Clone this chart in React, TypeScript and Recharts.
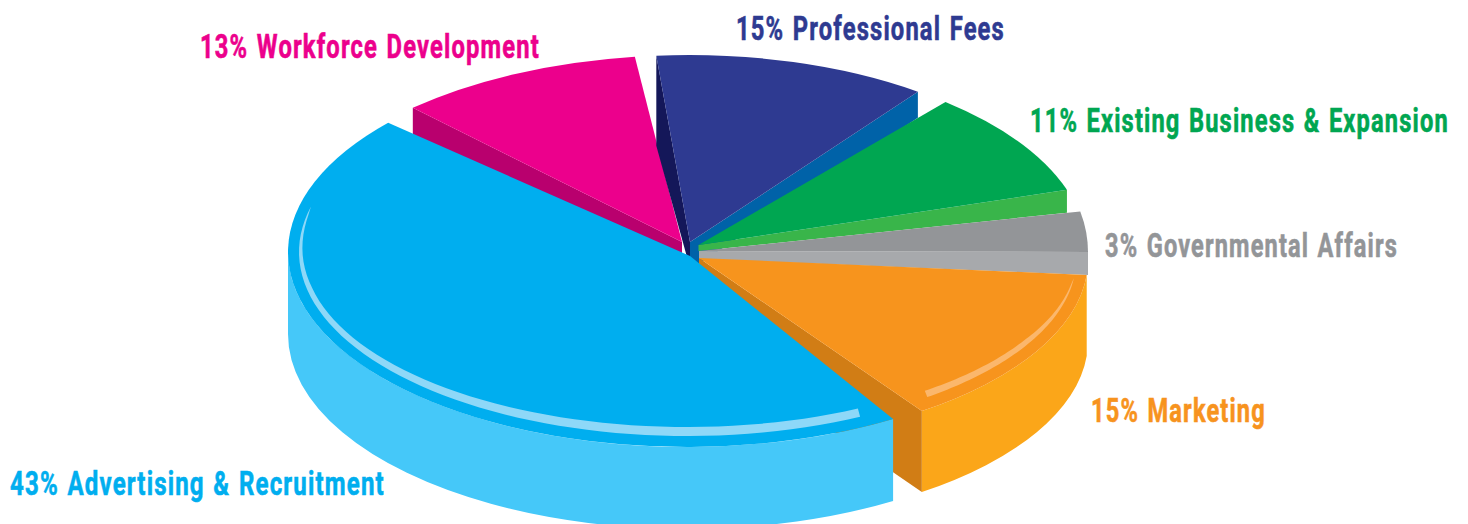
import React from "react";
import { PieChart, Pie } from "recharts";

// Slice order follows the pie clockwise, starting at the pink slice.
const categories = ["Workforce Development", "Professional Fees", "Existing Business & Expansion", "Governmental Affairs", "Marketing", "Advertising & Recruitment"];
const percents = [13, 15, 11, 3, 15, 43];
// Share of the drawn ellipse each slice takes, as measured on the picture (degrees of sweep).
const sweeps = [36, 39.7, 31.3, 11.3, 49.7, 162.6];

const topColors = ["#ec008c", "#2e3a91", "#00a651", "#939598", "#f7941d", "#00aeef"];
const labelColors = ["#ec008c", "#2e3a91", "#00a651", "#939598", "#f7931e", "#00aeef"];
const wallColors = ["", "", "", "", "#fba619", "#45c8f9"];
const wallHeights = [0, 0, 0, 0, 81, 82];
const angleShifts = [0, 1.8, 1.7, -0.8, -0.5, -0.2];
const centerDx = [0, 0, 0, 0, 0, -2];
const centerDy = [-7, 6, 1, 0, 8, 0];
const radiusY = [190, 203, 197, 207, 186, 195];
const apexDx = [-7, 1, 9.5, 10, 10, 1];
const apexDy = [-10, -10, -7, -1, 6, 4];

type Cut = { edge: "hi" | "lo"; fill: string; h: number; ha: number };
const cuts: Cut[][] = [
  [{ edge: "hi", fill: "#b9006e", h: 28, ha: 14 }],
  [
    { edge: "hi", fill: "#141759", h: 90, ha: 26 },
    { edge: "lo", fill: "#0062a8", h: 26, ha: 28 },
  ],
  [{ edge: "lo", fill: "#39b54a", h: 23, ha: 6 }],
  [{ edge: "lo", fill: "#a7a9ac", h: 23, ha: 8 }],
  [{ edge: "lo", fill: "#d17d15", h: 81, ha: 81 }],
  [],
];
type Shine = { from: number; to: number; fill: string; outer: [number, number]; extra: [number, number]; ramp: number };
const shines: (Shine | null)[] = [
  null, null, null, null,
  { from: -6, to: -52, fill: "#fbb76c", outer: [12, 12], extra: [4, 8], ramp: 0.5 },
  { from: -194.3, to: -63.5, fill: "#8ed8f8", outer: [11, 11], extra: [5, 9], ramp: 0.2 },
];

const labelX = [200, 736, 1030, 1105, 1091, 10];
const labelY = [58, 40, 132, 257, 422, 495];
const labelW = [340, 269, 419, 293, 175, 375];
const LABEL_FONT = "Roboto, sans-serif";
const LABEL_SIZE = 33;
const LABEL_SPACING = 1.6;
const LABEL_WORD_SPACING = 2;

const tableData = categories.map((name, i) => ({ name, value: sweeps[i] }));

const f = (n: number) => n.toFixed(2);

function naturalWidth(s: string): number {
  const ctx = document.createElement("canvas").getContext("2d");
  if (!ctx) return s.length * LABEL_SIZE * 0.55;
  ctx.font = `700 ${LABEL_SIZE}px ${LABEL_FONT}`;
  const words = s.split(" ").length - 1;
  return ctx.measureText(s).width + s.length * LABEL_SPACING + words * LABEL_WORD_SPACING;
}

function Slice3D(props: any) {
  const i = categories.indexOf(props.name);
  const rx: number = props.outerRadius;
  const ry = radiusY[i];
  const cx = props.cx + centerDx[i];
  const cy = props.cy + centerDy[i];
  const hi = props.startAngle + angleShifts[i];
  const lo = props.endAngle + angleShifts[i];
  const pt = (deg: number, rxx = rx, ryy = ry): [number, number] => {
    const r = (deg * Math.PI) / 180;
    return [cx + rxx * Math.cos(r), cy - ryy * Math.sin(r)];
  };
  const apex: [number, number] = [props.cx + apexDx[i], props.cy + apexDy[i]];
  const a = pt(hi);
  const b = pt(lo);
  const large = hi - lo > 180 ? 1 : 0;
  const top = `M${f(apex[0])} ${f(apex[1])}L${f(a[0])} ${f(a[1])}A${rx} ${ry} 0 ${large} 1 ${f(b[0])} ${f(b[1])}Z`;

  let wall: string | null = null;
  const w1 = Math.min(hi, 0);
  const w2 = Math.max(lo, -180);
  if (wallHeights[i] > 0 && w1 > w2) {
    const h = wallHeights[i];
    const p = pt(w1);
    const q = pt(w2);
    wall = `M${f(p[0])} ${f(p[1])}A${rx} ${ry} 0 0 1 ${f(q[0])} ${f(q[1])}L${f(q[0])} ${f(q[1] + h)}A${rx} ${ry} 0 0 0 ${f(p[0])} ${f(p[1] + h)}Z`;
  }

  const sh = shines[i];
  let shine: string | null = null;
  if (sh) {
    const orx = rx - sh.outer[0];
    const ory = ry - sh.outer[1];
    const steps = 60;
    const outerPts: string[] = [];
    const innerPts: string[] = [];
    for (let k = 0; k <= steps; k++) {
      const t = k / steps;
      const deg = sh.from + (sh.to - sh.from) * t;
      const grow = Math.pow(Math.min(1, t / sh.ramp), 0.6);
      const o = pt(deg, orx, ory);
      const n = pt(deg, orx - sh.extra[0] * grow, ory - sh.extra[1] * grow);
      outerPts.push(`${f(o[0])} ${f(o[1])}`);
      innerPts.unshift(`${f(n[0])} ${f(n[1])}`);
    }
    shine = `M${outerPts.join("L")}L${innerPts.join("L")}Z`;
  }

  return (
    <g>
      {wall && <path d={wall} fill={wallColors[i]} />}
      {cuts[i].map((c, k) => {
        const e = c.edge === "hi" ? a : b;
        const d = `M${f(apex[0])} ${f(apex[1])}L${f(e[0])} ${f(e[1])}L${f(e[0])} ${f(e[1] + c.h)}L${f(apex[0])} ${f(apex[1] + c.ha)}Z`;
        return <path key={k} d={d} fill={c.fill} />;
      })}
      <path d={top} fill={topColors[i]} />
      {shine && <path d={shine} fill={sh!.fill} />}
    </g>
  );
}

function SliceLabel(props: any) {
  const i = categories.indexOf(props.name);
  const content = `${percents[i]}% ${categories[i]}`;
  const sx = labelW[i] / naturalWidth(content);
  return (
    <text
      x={0}
      y={0}
      transform={`translate(${labelX[i]} ${labelY[i]}) scale(${sx.toFixed(4)} 1)`}
      fill={labelColors[i]}
      stroke={labelColors[i]}
      strokeWidth={0.6}
      fontFamily={LABEL_FONT}
      fontWeight={700}
      fontSize={LABEL_SIZE}
      letterSpacing={LABEL_SPACING}
      wordSpacing={LABEL_WORD_SPACING}
      textAnchor="start"
    >
      {content}
    </text>
  );
}

export default function App() {
  return (
    <div style={{ position: "absolute", left: 0, top: 0, width: 1468, height: 524, background: "#fff" }}>
      <PieChart width={1468} height={524} margin={{ top: 0, right: 0, bottom: 0, left: 0 }}>
        <Pie
          data={tableData}
          dataKey="value"
          nameKey="name"
          cx={689}
          cy={252}
          outerRadius={399}
          innerRadius={0}
          startAngle={133.8}
          endAngle={-226.2}
          paddingAngle={4.9}
          stroke="none"
          isAnimationActive={false}
          shape={Slice3D}
          label={SliceLabel}
          labelLine={false}
        />
      </PieChart>
    </div>
  );
}
